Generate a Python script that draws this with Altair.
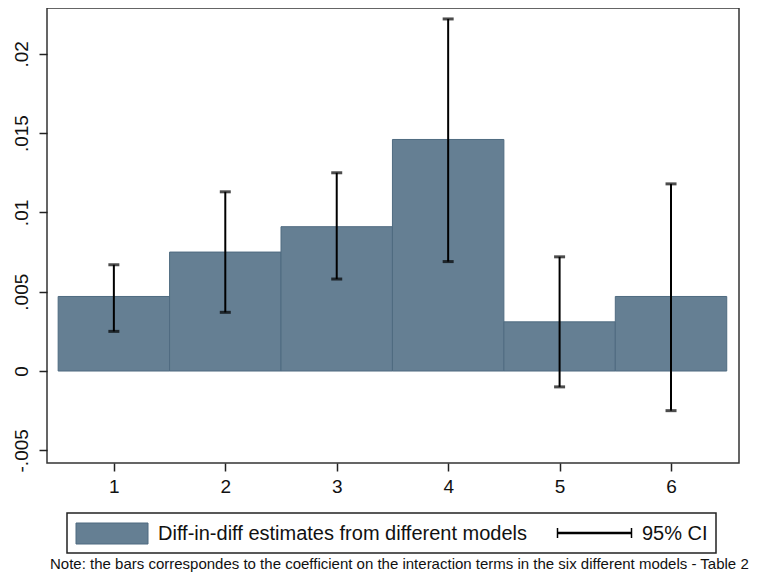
import altair as alt
import pandas as pd

# ---- data ----
models = [1, 2, 3, 4, 5, 6]
estimates = [0.0047, 0.0075, 0.0091, 0.0146, 0.0031, 0.0047]
ci_low = [0.0025, 0.0037, 0.0058, 0.0069, -0.0010, -0.0025]
ci_high = [0.0067, 0.0113, 0.0125, 0.0222, 0.0072, 0.0118]
y_ticks = [-0.005, 0, 0.005, 0.01, 0.015, 0.02]
y_tick_labels = ["-.005", "0", ".005", ".01", ".015", ".02"]
legend_labels = ["Diff-in-diff estimates from different models", "95% CI"]
note_text = ("Note: the bars correspondes to the coefficient on the interaction "
             "terms in the six different models - Table 2")

df = pd.DataFrame({
    "model": models,
    "est": estimates,
    "lo": ci_low,
    "hi": ci_high,
})
df["left"] = df["model"] - 0.5
df["right"] = df["model"] + 0.5

FONT = "Liberation Sans Narrow, Arial Narrow, Liberation Sans, Arial"
BAR = "#657f93"
BAR_EDGE = "#4f6b80"

W, H = 692, 455
xscale = alt.Scale(domain=[0.4, 6.61], nice=False, zero=False)
yscale = alt.Scale(domain=[-0.0058, 0.02289], nice=False, zero=False)

# map tick values to the Stata-style labels
label_expr = " : ".join(
    f"datum.value < {v + 0.001} ? '{l}'" for v, l in zip(y_ticks[:-1], y_tick_labels[:-1])
) + f" : '{y_tick_labels[-1]}'"

base = alt.Chart(df)

bars = base.mark_rect(fill=BAR, stroke=BAR_EDGE, strokeWidth=1).encode(
    x=alt.X("left:Q", scale=xscale,
            axis=alt.Axis(values=models, title=None, tickSize=8, tickWidth=1.5,
                          tickColor="#222", labelFontSize=19, labelFont=FONT,
                          labelColor="#111", labelPadding=6, domain=False,
                          grid=False, format="d")),
    x2="right:Q",
    y=alt.Y("est:Q", scale=yscale,
            axis=alt.Axis(values=y_ticks, title=None, tickSize=8, tickWidth=1.5,
                          tickColor="#222", labelFontSize=19, labelFont=FONT,
                          labelColor="#111", labelAngle=270, labelPadding=8,
                          labelExpr=label_expr, domain=False, grid=False)),
    y2=alt.Y2(datum=0),
)

whisk = base.mark_rule(color="black", strokeWidth=2).encode(
    x=alt.X("model:Q", scale=xscale),
    y=alt.Y("lo:Q", scale=yscale),
    y2="hi:Q",
)
cap_lo = base.mark_tick(color="black", orient="horizontal", size=11,
                        thickness=3).encode(
    x=alt.X("model:Q", scale=xscale), y=alt.Y("lo:Q", scale=yscale))
cap_hi = base.mark_tick(color="black", orient="horizontal", size=11,
                        thickness=3).encode(
    x=alt.X("model:Q", scale=xscale), y=alt.Y("hi:Q", scale=yscale))

# ---- legend box (drawn below the plot area) ----
one = alt.Chart(pd.DataFrame({"bar_label": [legend_labels[0]],
                              "ci_label": [legend_labels[1]],
                              "note": [note_text]}))
leg_box = one.mark_rect(fill="white", stroke="#222", strokeWidth=1.5).encode(
    x=alt.value(20), x2=alt.value(669), y=alt.value(505), y2=alt.value(545))
leg_swatch = one.mark_rect(fill=BAR, stroke=BAR_EDGE, strokeWidth=1).encode(
    x=alt.value(29), x2=alt.value(101), y=alt.value(515), y2=alt.value(536))
leg_text1 = one.mark_text(align="left", baseline="middle", fontSize=20,
                          font=FONT, color="#111").encode(
    x=alt.value(111), y=alt.value(526), text="bar_label:N")
leg_ci_line = one.mark_rule(color="black", strokeWidth=2.5).encode(
    x=alt.value(510), x2=alt.value(585), y=alt.value(525))
leg_ci_cap1 = one.mark_rule(color="black", strokeWidth=1.5).encode(
    x=alt.value(510.5), y=alt.value(520), y2=alt.value(530))
leg_ci_cap2 = one.mark_rule(color="black", strokeWidth=1.5).encode(
    x=alt.value(584.5), y=alt.value(520), y2=alt.value(530))
leg_text2 = one.mark_text(align="left", baseline="middle", fontSize=20,
                          font=FONT, color="#111").encode(
    x=alt.value(595), y=alt.value(526), text="ci_label:N")
note = one.mark_text(align="left", baseline="alphabetic", fontSize=15,
                     font=FONT, color="#111").encode(
    x=alt.value(3), y=alt.value(561), text="note:N")

chart = alt.layer(
    bars, whisk, cap_lo, cap_hi,
    leg_box, leg_swatch, leg_text1, leg_ci_line, leg_ci_cap1, leg_ci_cap2,
    leg_text2, note,
).properties(
    width=W, height=H,
    autosize=alt.AutoSizeParams(type="none"),
    padding={"left": 39, "top": 0, "right": 22, "bottom": 111},
    background="white",
).configure_view(
    stroke="#333", strokeWidth=1.5, clip=False,
)

chart.save("out.html", embed_options={"renderer": "svg", "actions": False})
